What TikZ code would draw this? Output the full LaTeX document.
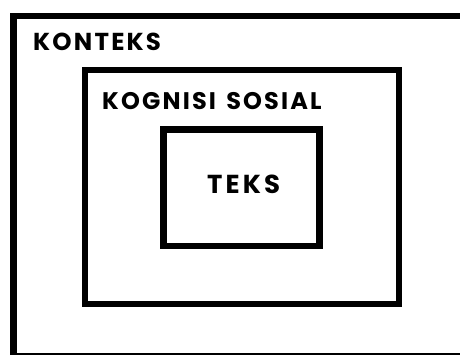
\documentclass[tikz,border=0pt]{standalone}
\usepackage{fontspec}
\setmainfont{Poppins}
\newfontfamily\lblfont{Poppins Bold}[LetterSpace=9]
\newfontfamily\tekfont{Poppins Bold}[LetterSpace=12]
\begin{document}
\begin{tikzpicture}[x=1pt,y=-1pt,
  frame/.style={draw=black,line width=6.5pt},
  lbl/.style={anchor=base west,inner sep=0pt,font=\lblfont\fontsize{24}{24}\selectfont}]
\useasboundingbox (0,0) rectangle (460,354);
\clip (0,0) rectangle (460,354);
\fill[white] (0,0) rectangle (460,354);
\draw[frame] (13.5,16) rectangle (475,356.5);
\draw[frame,line width=5.5pt] (85,70) rectangle (399,304);
\draw[frame] (163.5,129.5) rectangle (319.5,246);
\node[lbl,font=\lblfont\fontsize{24.5}{24}\selectfont] (konteks) at (33,50.5) {KONTEKS};
\node[lbl] (kognisi) at (102,109) {KOGNISI\hspace{3pt} SOSIAL};
\node[lbl,font=\tekfont\fontsize{26}{26}\selectfont] (teks) at (207,193) {TEKS};
\end{tikzpicture}
\end{document}
